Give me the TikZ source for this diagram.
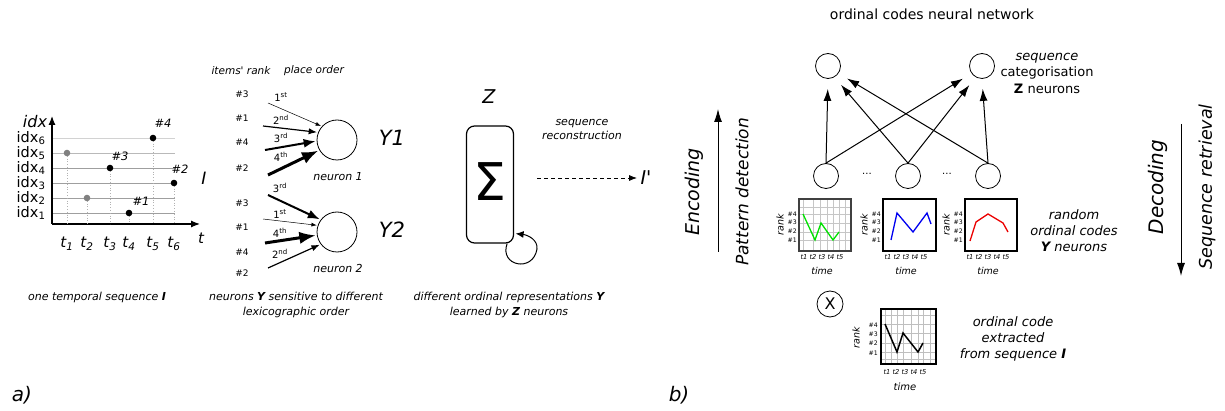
\documentclass[tikz,border=0pt]{standalone}
\usepackage{fontspec}
\setmainfont{DejaVu Sans}
\usetikzlibrary{arrows.meta}

\definecolor{codegreen}{RGB}{0,225,0}
\definecolor{codeblue}{RGB}{0,0,240}
\definecolor{codered}{RGB}{235,0,0}

\tikzset{
  neuron/.style={draw, circle, line width=0.8pt, minimum size=40pt, inner sep=0pt},
  smallneuron/.style={draw, circle, line width=0.8pt, minimum size=25pt, inner sep=0pt},
  caption/.style={font=\fontsize{11}{15}\selectfont\itshape, align=center},
  bigletter/.style={font=\fontsize{21}{22}\selectfont\itshape},
  ranklabel/.style={font=\fontsize{9}{10}\selectfont},
  ordlabel/.style={font=\fontsize{10}{11}\selectfont},
  idxlabel/.style={font=\fontsize{14.5}{15}\selectfont},
  tlabel/.style={font=\fontsize{15}{16}\selectfont\itshape},
  inarrow/.style={-{Latex}, shorten >=1pt},
  netarrow/.style={-{Latex[length=12pt,width=8pt]}, line width=1pt, shorten >=10pt},
  sidearrow/.style={-{Latex[length=13pt,width=8pt]}, line width=1pt},
  tinyrank/.style={font=\fontsize{6.2}{7}\selectfont, anchor=east, inner sep=1pt},
  tinytime/.style={font=\fontsize{6.7}{7}\selectfont\itshape},
  axislabel/.style={font=\fontsize{9.5}{10}\selectfont\itshape},
  sidetext/.style={font=\fontsize{13}{16}\selectfont\itshape, align=center},
}

\begin{document}
\begin{tikzpicture}[x=1pt, y=-1pt]
    \useasboundingbox (0,0) rectangle (1225,411);

    % ---------------- a) one temporal sequence ----------------
    % Index levels
    \foreach \k/\yy/\col in {1/213/gray!75, 2/198/gray!75, 3/183/gray!75, 4/168/gray!75, 5/153/gray!55, 6/138/gray!35} {
        \draw[\col, line width=0.8pt] (52,\yy) -- (175,\yy);
        \node[idxlabel, anchor=east] at (49,\yy) {idx\textsubscript{\k}};
    }

    % Axes
    \draw[-{Latex[length=9pt,width=7pt]}, line width=1.2pt] (52,224) -- (52,116);
    \draw[-{Latex[length=9pt,width=7pt]}, line width=1.2pt] (52,224) -- (200,224);
    \node[font=\fontsize{16}{17}\selectfont\itshape] at (35,122) {idx};
    \node[tlabel] at (201,238) {t};
    \node[font=\fontsize{17}{18}\selectfont\itshape] (iseq) at (204,178) {I};

    % Sequence items
    \foreach \k/\xx/\yy/\col in {1/67/153/gray, 2/87/198/gray, 3/110/168/black, 4/129/213/black, 5/153/138/black, 6/174/183/black} {
        \draw[gray!60, dotted, line width=0.8pt] (\xx,\yy) -- (\xx,224);
        \fill[\col] (\xx,\yy) circle (3.3pt);
        \node[tlabel] at (\xx,244) {t\textsubscript{\k}};
    }
    \node[font=\fontsize{11.5}{12}\selectfont\itshape] at (163,123) {\#4};
    \node[font=\fontsize{11.5}{12}\selectfont\itshape] at (120,156) {\#3};
    \node[font=\fontsize{11.5}{12}\selectfont\itshape] at (180,169) {\#2};
    \node[font=\fontsize{11.5}{12}\selectfont\itshape] at (141,201) {\#1};

    \node[caption] at (97,297) {one temporal sequence \textbf{I}};

    % ---------------- neurons Y ----------------
    \node[font=\fontsize{10.5}{11}\selectfont\itshape] at (241,71) {items\textquotesingle{} rank};
    \node[font=\fontsize{10.5}{11}\selectfont\itshape] at (314,71) {place order};

    \node[neuron] (n1) at (337,140) {};
    \node[neuron] (n2) at (337,232) {};
    \node[bigletter] at (392,138) {Y1};
    \node[bigletter] at (392,230) {Y2};
    \node[font=\fontsize{11}{12}\selectfont\itshape] at (338,177) {neuron 1};
    \node[font=\fontsize{11}{12}\selectfont\itshape] at (338,268) {neuron 2};

    % Inputs of neuron 1
    \foreach \rk/\ry/\sx/\sy/\ang/\lw/\on/\os/\oy [count=\i] in {
        3/94/268/103/138/0.5/1/st/97,
        1/118/263/126/158/1.2/2/nd/120,
        4/142/265/150/183/2/3/rd/138,
        2/168/268/175/210/3/4/th/157} {
        \node[ranklabel] (ra\i) at (242,\ry) {\#\rk};
        \coordinate (sa\i) at (\sx,\sy);
        \draw[inarrow, line width=\lw pt] (sa\i) -- (n1.\ang);
        \node[ordlabel] at (281,\oy) {\on\textsuperscript{\os}};
    }

    % Inputs of neuron 2
    \foreach \rk/\ry/\sx/\sy/\ang/\lw/\on/\os/\oy [count=\i] in {
        3/203/268/195/143/2/3/rd/188,
        1/227/263/219/161/0.5/1/st/214,
        4/252/265/243/189/3/4/th/233,
        2/273/268/268/217/1.2/2/nd/254} {
        \node[ranklabel] (rb\i) at (242,\ry) {\#\rk};
        \coordinate (sb\i) at (\sx,\sy);
        \draw[inarrow, line width=\lw pt] (sb\i) -- (n2.\ang);
        \node[ordlabel] at (280,\oy) {\on\textsuperscript{\os}};
    }

    \node[caption] at (296,304.5) {neurons \textbf{Y} sensitive to different\\lexicographic order};

    % ---------------- neuron Z ----------------
    \node[font=\fontsize{19}{20}\selectfont\itshape] at (489,97) {Z};
    \node[draw, rounded corners=8pt, line width=1.2pt, minimum width=47pt, minimum height=117pt] (zsum) at (490,184.5) {};
    \node[font=\fontsize{52}{52}\selectfont] (sig) at (490,182) {Σ};
    \draw[-{Latex[length=8pt,width=7pt]}, line width=1pt] ([xshift=-7pt]zsum.south east)
        .. controls (499,266) and (533,273) .. (537,249)
        .. controls (538,240) and (528,235) .. ([xshift=1.5pt,yshift=10pt]zsum.south east);

    \node[font=\fontsize{11}{14}\selectfont\itshape, align=center] at (582,130) {sequence\\reconstruction};
    \coordinate (rec) at (537,178);
    \node[font=\fontsize{19}{20}\selectfont\itshape] (iout) at (646,178) {I\textquotesingle};
    \draw[dashed, dash pattern=on 4pt off 3pt, -{Latex[length=8pt,width=6pt]}, line width=0.8pt] (rec) -- (iout.west);

    \node[caption] at (509,304.5) {different ordinal representations \textbf{Y}\\learned by \textbf{Z} neurons};

    \node[font=\fontsize{20}{22}\selectfont\itshape] at (22,395) {a)};

    % ---------------- b) ordinal codes neural network ----------------
    \node[font=\fontsize{14}{15}\selectfont] at (932,14) {ordinal codes neural network};

    \node[smallneuron] (z1) at (828,66) {};
    \node[smallneuron] (z2) at (982,66) {};
    \node[smallneuron] (y1) at (826,176) {};
    \node[smallneuron] (y2) at (908,176) {};
    \node[smallneuron] (y3) at (988,176) {};
    \node at (867,174) {...};
    \node at (947,174) {...};

    \foreach \src/\dst in {y1/z1.-90, y2/z1.-60, y3/z1.-35, y1/z2.-145, y2/z2.-120, y3/z2.-90}
        \draw[netarrow] (\src.north) -- (\dst);

    \node[font=\fontsize{13}{16.5}\selectfont, align=center] at (1047,73) {\textit{sequence}\\categorisation\\\textbf{Z} neurons};

    % Random ordinal codes
    \begin{scope}[shift={(799,199)}]
        \foreach \xx in {4,14,21,28,34,40,46} \draw[gray!45, line width=0.5pt] (\xx,0) -- (\xx,52);
        \foreach \yy in {8,15,24,33,41} \draw[gray!45, line width=0.5pt] (0,\yy) -- (52,\yy);
        \draw[codegreen, line width=1.3pt] (4,15) -- (16,41) -- (22,24) -- (34,41) -- (40,33);
        \draw[black!75, line width=1.3pt] (0,0) rectangle (52,52);
    \end{scope}
    \begin{scope}[shift={(883,199)}]
        \draw[codeblue, line width=1.3pt] (8,41) -- (14,14) -- (30,33) -- (44,14) -- (48,25);
        \draw[line width=1.3pt] (0,0) rectangle (53,52);
    \end{scope}
    \begin{scope}[shift={(965,199)}]
        \draw[codered, line width=1.3pt] (5,42) -- (11,23) -- (23,15) -- (38,24) -- (43,33);
        \draw[line width=1.3pt] (0,0) rectangle (52,52);
    \end{scope}
    \foreach \cx in {799,883,965} {
        \foreach \r/\ry in {4/15,3/23.7,2/32.4,1/41}
            \node[tinyrank] at (\cx-1,199+\ry) {\#\r};
        \node[axislabel, rotate=90] at (\cx-19,225) {rank};
        \node[tinytime] at (\cx+23,257) {t1 t2 t3 t4 t5};
        \node[axislabel] at (\cx+23,271) {time};
    }

    \node[sidetext] at (1074,231) {random\\ordinal codes\\\textbf{Y} neurons};

    % Extracted ordinal code
    \node[draw, circle, line width=0.8pt, minimum size=26pt, inner sep=0pt, font=\fontsize{16}{17}\selectfont] (xop) at (830,304) {X};
    \begin{scope}[shift={(881,309)}]
        \foreach \xx in {4,10,16,22,30,37,42,49} \draw[gray!50, line width=0.5pt] (\xx,0) -- (\xx,55);
        \foreach \yy in {6,15,24,34,43,50} \draw[gray!50, line width=0.5pt] (0,\yy) -- (55,\yy);
        \draw[line width=1.5pt] (4,15) -- (16,43) -- (22,24) -- (37,43) -- (42,34);
        \draw[line width=2.5pt] (0,0) rectangle (55,55);
    \end{scope}
    \foreach \r/\ry in {4/325,3/334,2/343,1/353}
        \node[tinyrank] at (879,\ry) {\#\r};
    \node[axislabel, rotate=90] at (856,338) {rank};
    \node[tinytime] at (905,372) {t1 t2 t3 t4 t5};
    \node[axislabel, font=\fontsize{10}{11}\selectfont\itshape] at (905,387) {time};

    \node[sidetext] at (1013,339) {ordinal code\\extracted\\from sequence \textbf{I}};

    % Encoding / decoding
    \coordinate (encS) at (718,252);
    \coordinate (encE) at (718,109);
    \draw[sidearrow] (encS) -- (encE);
    \node[font=\fontsize{19}{20}\selectfont\itshape, rotate=90] at (694,192) {Encoding};
    \node[font=\fontsize{17}{18}\selectfont\itshape, rotate=90] at (742,192) {Pattern detection};

    \coordinate (decS) at (1181,124);
    \coordinate (decE) at (1181,276);
    \draw[sidearrow] (decS) -- (decE);
    \node[font=\fontsize{20}{21}\selectfont\itshape, rotate=90] at (1158,187) {Decoding};
    \node[font=\fontsize{17.5}{18}\selectfont\itshape, rotate=90] at (1207,187) {Sequence retrieval};

    \node[font=\fontsize{20}{22}\selectfont\itshape] at (679,395) {b)};
\end{tikzpicture}
\end{document}
